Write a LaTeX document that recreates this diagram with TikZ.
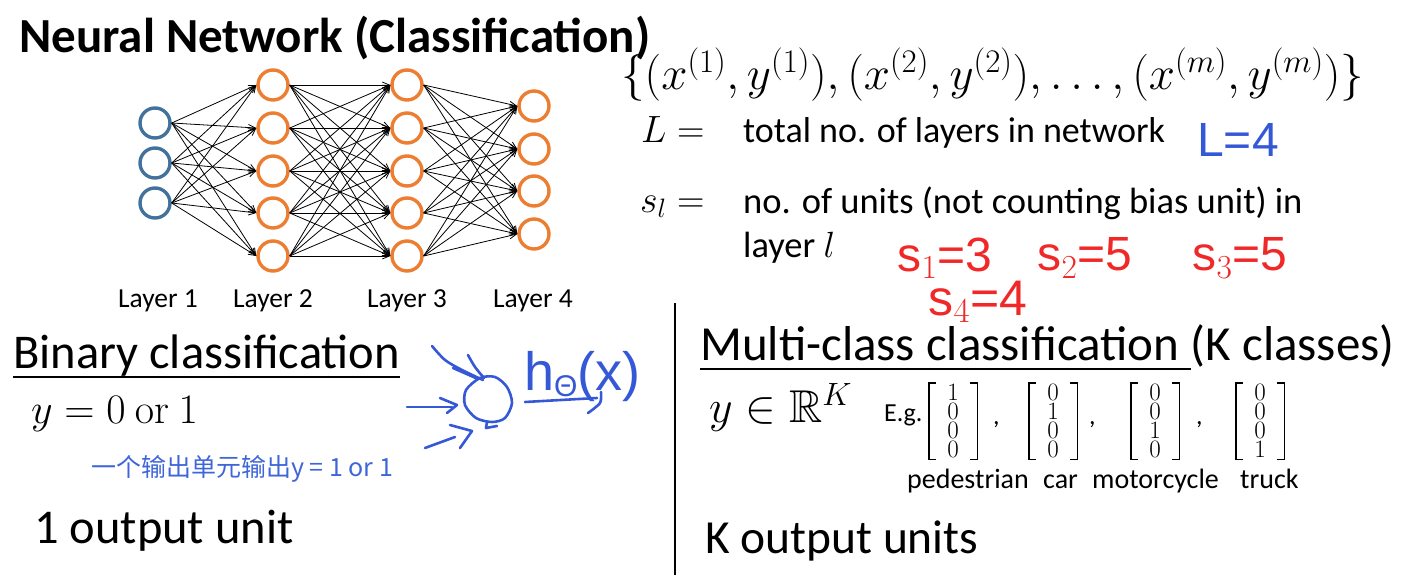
\RequirePackage{fix-cm}
\documentclass[tikz,border=0pt]{standalone}
\usepackage{amsmath,amssymb}
\usepackage[no-math]{fontspec}
\setmainfont{Carlito}
\newfontfamily\cjk{Noto Sans CJK SC}
\newfontfamily\hand{Liberation Sans}
\newfontfamily\lmr{Latin Modern Roman}
\usetikzlibrary{arrows.meta}
\definecolor{nnblue}{HTML}{41719C}
\definecolor{nnorange}{HTML}{ED7D31}
\definecolor{inkblue}{HTML}{3558D6}
\definecolor{inkred}{HTML}{F02828}
\definecolor{cnblue}{HTML}{3F66D8}
\newcommand{\fs}[1]{\fontsize{#1}{#1}\selectfont}
\newcommand{\digs}[4]{\vbox{\lmr\fontsize{25}{19}\selectfont\baselineskip=19pt\lineskiplimit=-30pt\lineskip=0pt\hbox{#1}\hbox{#2}\hbox{#3}\hbox{#4}}}
\tikzset{
  unitin/.style={circle, draw=nnblue, line width=3.4pt, minimum size=30pt, inner sep=0pt},
  unitout/.style={circle, draw=nnorange, line width=3.4pt, minimum size=30pt, inner sep=0pt},
  conn/.style={line width=0.8pt, -{Straight Barb[length=7pt,width=6pt]}},
  txt/.style={inner sep=0pt, anchor=base west},
  lbl/.style={inner sep=0pt, anchor=base, font=\fs{27.5}},
  ink/.style={inkblue, line width=2.6pt, line cap=round, line join=round},
  vec/.style={inner sep=0pt, minimum width=48pt, minimum height=76pt},
  brk/.style={line width=1.4pt},
}
\newcommand{\brackets}[1]{%
  \draw[brk] ([xshift=7pt]#1.north west) -- (#1.north west) -- (#1.south west) -- ([xshift=7pt]#1.south west);
  \draw[brk] ([xshift=-7pt]#1.north east) -- (#1.north east) -- (#1.south east) -- ([xshift=-7pt]#1.south east);}
\begin{document}
\begin{tikzpicture}[x=1pt,y=-1pt]
\useasboundingbox (0,0) rectangle (1401,575);
% title
\node[txt, font=\fs{49}\bfseries] (title) at (19,53) {Neural Network (Classification)};
% network
\foreach \i/\y in {1/123,2/163,3/203} \node[unitin] (a\i) at (155,\y) {};
\foreach \i/\y in {1/85,2/128,3/171,4/213,5/256} \node[unitout] (b\i) at (273,\y) {};
\foreach \i/\y in {1/85,2/128,3/171,4/213,5/256} \node[unitout] (c\i) at (407,\y) {};
\foreach \i/\y in {1/106,2/149,3/191,4/234} \node[unitout] (d\i) at (534,\y) {};
\foreach \i in {1,2,3} \foreach \j in {1,...,5} \draw[conn] (a\i.east) -- (b\j.west);
\foreach \i in {1,...,5} \foreach \j in {1,...,5} \draw[conn] (b\i.east) -- (c\j.west);
\foreach \i in {1,...,5} \foreach \j in {1,...,4} \draw[conn] (c\i.east) -- (d\j.west);
\node[lbl] (l1) at (158,307) {Layer 1};
\node[lbl] (l2) at (273,307) {Layer 2};
\node[lbl] (l3) at (407,307) {Layer 3};
\node[lbl] (l4) at (533,307) {Layer 4};
% definitions
\node[txt, font=\fs{47}] (set) at (621,90) {$\{(x^{(1)},y^{(1)}),(x^{(2)},y^{(2)}),\ldots,(x^{(m)},y^{(m)})\}$};
\node[txt, font=\fs{38}] (Leq) at (641,143) {$L=$};
\node[txt, font=\fs{36}] (Ltxt) at (743,143) {total no. of layers in network};
\node[txt, font=\fs{38}] (seq) at (640,212) {$s_l=$};
\node[txt, font=\fs{36.5}] (stxt) at (743,213) {no. of units (not counting bias unit) in};
\node[txt, font=\fs{36.5}] (stxt2) at (743,257) {layer $l$};
% handwritten notes
\node[inkblue, font=\hand\fs{48}, inner sep=0pt] (L4) at (1238,140) {L=4};
\node[inkred, font=\hand\fs{48}, inner sep=0pt] (s1) at (945,258) {s$_{1}$=3};
\node[inkred, font=\hand\fs{48}, inner sep=0pt] (s2) at (1085,258) {s$_{2}$=5};
\node[inkred, font=\hand\fs{48}, inner sep=0pt] (s3) at (1240,258) {s$_{3}$=5};
\node[inkred, font=\hand\fs{50}, inner sep=0pt] (s4) at (978,302) {s$_{4}$=4};
% binary classification
\node[txt, font=\fs{48.5}] (bc) at (13,368) {Binary classification};
\draw[line width=2.4pt] ([yshift=-9pt]bc.base west) -- ([yshift=-9pt]bc.base east);
\node[txt, font=\fs{42}] (y01) at (31,423) {$y=0\ \mathrm{or}\ 1$};
\node[cnblue, font=\cjk\fs{25}, inner sep=0pt] (cn) at (242,469) {一个输出单元输出y = 1 or 1};
\node[txt, font=\fs{48.5}] (one) at (34,543) {1 output unit};
% doodle
\draw[ink] plot[smooth cycle] coordinates {(480,378) (495,377) (507,387) (512,403) (505,418) (492,422) (476,418) (465,405) (466,390)};
\draw[ink] (487,422) -- (486,428) -- (497,426);
\draw[ink] (407,407) -- (452,407);
\draw[ink] (440,398) -- (457,405) -- (447,413);
\draw[ink] plot[smooth] coordinates {(432,346) (445,360) (462,370) (483,380)};
\draw[ink] (453,368) -- (478,379);
\draw[ink] plot[smooth] coordinates {(468,355) (475,367) (484,378)};
\draw[ink] (425,448) -- (455,437);
\draw[ink] (450,425) -- (472,431) -- (460,448);
\node[inkblue, font=\hand\fs{54}, inner sep=0pt, anchor=base west] (h) at (524,390) {h\raisebox{-6pt}{\fs{30}Θ}(x)};
\draw[ink] (525,402) -- (597,398);
\draw[ink] plot[smooth] coordinates {(588,413) (600,403) (601,392)};
% divider
\coordinate (dtop) at (675,303);
\coordinate (dbot) at (675,575);
\draw[line width=1.5pt] (dtop) -- (dbot);
% multi-class
\node[txt, font=\fs{49}] (mc) at (700,360) {Multi-class classification\ \null};
\node[txt, font=\fs{49}] (mck) at (mc.base east) {(K classes)};
\draw[line width=2.4pt] ([yshift=-9pt]mc.base west) -- ([yshift=-9pt]mc.base east);
\node[txt, font=\fs{46}] (yrk) at (709,422) {$y\in\mathbb{R}^K$};
\node[txt, font=\fs{26}] (eg) at (884,421) {E.g.};
\node[vec] (m1) at (953,421) {\digs1000};
\node[vec] (m2) at (1053,421) {\digs0100};
\node[vec] (m3) at (1155,421) {\digs0010};
\node[vec] (m4) at (1260,421) {\digs0001};
\brackets{m1}
\brackets{m2}
\brackets{m3}
\brackets{m4}
\node[txt, font=\fs{26}] (c1) at (993,424) {,};
\node[txt, font=\fs{26}] (c2) at (1089,424) {,};
\node[txt, font=\fs{26}] (c3) at (1196,424) {,};
\node[txt, font=\fs{28}] (p1) at (907,488) {pedestrian};
\node[txt, font=\fs{28}] (p2) at (1043,488) {car};
\node[txt, font=\fs{28}] (p3) at (1092,488) {motorcycle};
\node[txt, font=\fs{28}] (p4) at (1240,488) {truck};
\node[txt, font=\fs{47.5}] (kout) at (705,553) {K output units};
\end{tikzpicture}
\end{document}
